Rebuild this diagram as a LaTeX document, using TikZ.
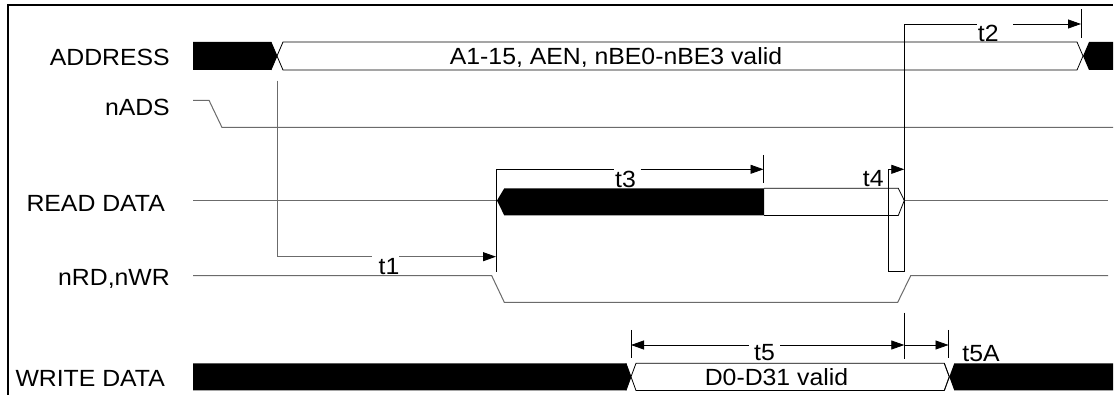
\documentclass[tikz,border=0pt]{standalone}
\usepackage{fontspec}
\setmainfont[FakeStretch=1.06]{Liberation Sans}
\usetikzlibrary{arrows.meta}
\definecolor{sigc}{gray}{0.42}
\begin{document}
\begin{tikzpicture}[x=1pt,y=-1pt,
  sig/.style={draw=sigc, line width=1pt},
  bus/.style={draw=black, line width=0.8pt},
  dim/.style={draw=black, line width=0.8pt},
  arr/.style={-{Triangle[length=13pt,width=9pt,color=black]}},
  rarr/.style={{Triangle[length=13pt,width=9pt,color=black]}-},
  lbl/.style={font=\fontsize{23.4}{28}\selectfont, inner sep=0pt},
  ]
\useasboundingbox (0,0) rectangle (1117,395);
\fill[white] (0,0) rectangle (1117,395);
% frame
\coordinate (fbl) at (7.5,395);
\coordinate (ftl) at (7.5,5.5);
\coordinate (ftr) at (1113,5.5);
\draw[line width=2pt] (fbl) -- (ftl) -- (ftr);

% signal names
\node[lbl, anchor=base east] (lAddr) at (170,66) {ADDRESS};
\node[lbl, anchor=base east] (lAds) at (170,116) {nADS};
\node[lbl, anchor=base east] (lRd) at (165,211.7) {READ DATA};
\node[lbl, anchor=base east] (lRw) at (170,286) {nRD,nWR};
\node[lbl, anchor=base east] (lWd) at (165,386) {WRITE DATA};

% ADDRESS bus
\fill[black] (193,42) -- (271,42) -- (277,56) -- (271,70) -- (193,70) -- cycle;
\draw[bus] (271,42) -- (277,56) -- (271,70);
\draw[bus, fill=white] (277,56) -- (283,42) -- (1077,42) -- (1083,56) -- (1077,70) -- (283,70) -- cycle;
\fill[black] (1083,56) -- (1089,42) -- (1113,42) -- (1113,70) -- (1089,70) -- cycle;
\node[lbl, anchor=base] (tAddr) at (616,65) {A1-15, AEN, nBE0-nBE3 valid};

% nADS
\draw[sig] (193,100.3) -- (209,100.3) -- (222,127.5) -- (1113,127.5);

% READ DATA
\draw[sig] (193,200.5) -- (497,200.5);
\fill[black] (497,200.5) -- (504.3,188.3) -- (764,188.3) -- (764,215.5) -- (504.3,215.5) -- cycle;
\draw[bus] (764,188.3) -- (898.3,188.3) -- (904.3,200.5) -- (898.3,215.5) -- (764,215.5);
\draw[sig] (904.3,200.5) -- (1108,200.5);

% nRD,nWR
\draw[sig] (193,275.7) -- (491.7,275.7) -- (504.3,302.3) -- (897.7,302.3) -- (910.7,275.7) -- (1108,275.7);

% WRITE DATA
\fill[black] (193,363.3) -- (626,363.3) -- (631,376.8) -- (626,390.5) -- (193,390.5) -- cycle;
\draw[bus] (626,363.3) -- (631,376.8) -- (626,390.5);
\draw[bus, fill=white] (631,376.8) -- (636,363.3) -- (944.3,363.3) -- (949.3,376.8) -- (944.3,390.5) -- (636,390.5) -- cycle;
\draw[bus] (944.3,363.3) -- (949.3,376.8) -- (944.3,390.5);
\fill[black] (949.3,376.8) -- (954.3,363.3) -- (1113,363.3) -- (1113,390.5) -- (954.3,390.5) -- cycle;
\node[lbl, anchor=base] (tWd) at (776.5,385) {D0-D31 valid};

% ---- timing t1 ----
\coordinate (a1) at (277,80.7);
\coordinate (b1) at (277,256.7);
\coordinate (g1a) at (371.7,256.7);
\coordinate (g1b) at (399,256.7);
\coordinate (e1) at (496,256.7);
\draw[sig] (a1) -- (b1) -- (g1a);
\draw[sig, arr] (g1b) -- (e1);
\node[lbl, anchor=base] (t1) at (389,274.5) {t1};

% ---- timing t3 ----
\coordinate (k3a) at (496,271.7);
\coordinate (k3b) at (496,169.3);
\coordinate (g3a) at (614,169.3);
\coordinate (g3b) at (640.7,169.3);
\coordinate (e3) at (763.5,169.3);
\coordinate (k3c) at (763.5,155);
\coordinate (k3d) at (763.5,183.3);
\draw[dim] (k3a) -- (k3b) -- (g3a);
\draw[dim, arr] (g3b) -- (e3);
\draw[dim] (k3c) -- (k3d);
\node[lbl, anchor=base] (t3) at (625.5,187.5) {t3};

% ---- timing t4 / t2 ----
\coordinate (k4a) at (888.3,169.3);
\coordinate (k4b) at (888.3,271);
\coordinate (k4c) at (904.3,271);
\coordinate (e4) at (904.3,169.3);
\coordinate (k2a) at (904.3,24);
\draw[dim] (k4a) -- (k4b) -- (k4c) -- (k2a);
\draw[dim, arr] (k4a) -- (e4);
\node[lbl, anchor=base] (t4) at (873.3,186.7) {t4};

\coordinate (g2a) at (976.7,24);
\coordinate (g2b) at (1013,24);
\coordinate (e2) at (1081,24);
\coordinate (k2c) at (1081,9.3);
\coordinate (k2d) at (1081,38.3);
\draw[dim] (k2a) -- (g2a);
\draw[dim, arr] (g2b) -- (e2);
\draw[dim] (k2c) -- (k2d);
\node[lbl, anchor=base] (t2) at (988.3,41.7) {t2};

% ---- timing t5 / t5A ----
\coordinate (k5a) at (631,330);
\coordinate (k5b) at (631,358.3);
\coordinate (k5c) at (904.3,312.7);
\coordinate (k5d) at (904.3,359.3);
\coordinate (k5e) at (948.5,330);
\coordinate (k5f) at (948.5,358.3);
\draw[dim] (k5a) -- (k5b);
\draw[dim] (k5c) -- (k5d);
\draw[dim] (k5e) -- (k5f);
\coordinate (s5) at (631,345);
\coordinate (g5a) at (749,345);
\coordinate (g5b) at (780,345);
\coordinate (e5) at (904.3,345);
\coordinate (e5a) at (948.5,345);
\draw[dim, rarr] (s5) -- (g5a);
\draw[dim, arr] (g5b) -- (e5);
\draw[dim, arr] (e5) -- (e5a);
\node[lbl, anchor=base] (t5) at (764.5,361) {t5};
\node[lbl, anchor=base] (t5A) at (981,361.7) {t5A};
\end{tikzpicture}
\end{document}
